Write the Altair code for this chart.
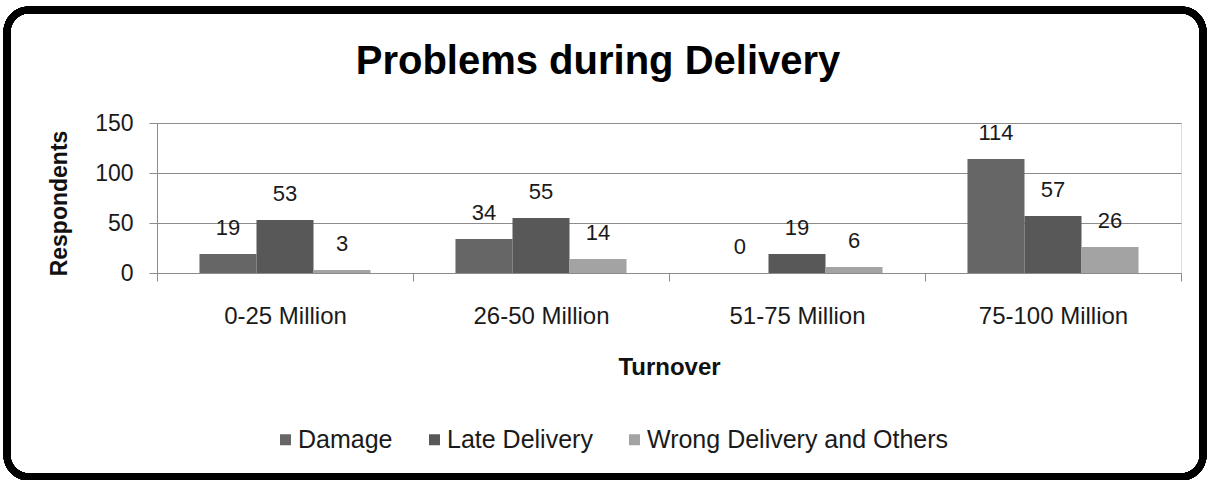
import altair as alt
import pandas as pd

# Respondents reporting each delivery problem, by company turnover band
turnover = ["0-25 Million", "26-50 Million", "51-75 Million", "75-100 Million"]
problems = ["Damage", "Late Delivery", "Wrong Delivery and Others"]
damage = [19, 34, 0, 114]
late_delivery = [53, 55, 19, 57]
wrong_delivery = [3, 14, 6, 26]

series = {"Damage": damage, "Late Delivery": late_delivery,
          "Wrong Delivery and Others": wrong_delivery}
rows = []
for p in problems:
    for t, v in zip(turnover, series[p]):
        rows.append({"Turnover": t, "Problem": p, "Respondents": v})
df = pd.DataFrame(rows)

FONT = "Liberation Sans"
GRID = "#8c8c8c"
palette = ["#666666", "#585858", "#a3a3a3"]

x_enc = alt.X(
    "Turnover:N", sort=turnover,
    scale=alt.Scale(paddingInner=0, paddingOuter=0),
    axis=alt.Axis(
        title="Turnover", labelAngle=0, tickBand="extent", grid=False,
        domainColor=GRID, tickColor=GRID, tickSize=8,
        labelFont=FONT, labelFontSize=24, labelColor="#1a1a1a", labelPadding=23,
        titleFont=FONT, titleFontSize=24, titleFontWeight="bold", titleColor="#111111",
        titleX=512, titleY=94, titleBaseline="middle",
    ),
)
xoff_enc = alt.XOffset("Problem:N", sort=problems,
                       scale=alt.Scale(paddingInner=0, paddingOuter=0.745))
y_enc = alt.Y(
    "Respondents:Q",
    scale=alt.Scale(domain=[0, 150], nice=False),
    axis=alt.Axis(
        title="Respondents", values=[0, 50, 100, 150], grid=True,
        gridColor=GRID, domainColor=GRID, tickColor=GRID, tickSize=8,
        labelFont=FONT, labelFontSize=23, labelColor="#1a1a1a", labelPadding=16,
        titleFont=FONT, titleFontSize=23, titleFontWeight="bold", titleColor="#111111",
        titleAngle=270, titleX=-98, titleY=80, titleAlign="center", titleBaseline="middle",
    ),
)

# Rounded frame around the whole chart
frame = alt.Chart(df).mark_rect(
    fill="white", fillOpacity=0, stroke="black", strokeWidth=7, cornerRadius=22
).encode(
    x=alt.value(-150), x2=alt.value(1046), y=alt.value(-113), y2=alt.value(354)
)

bars = alt.Chart(df).mark_bar().encode(
    x=x_enc,
    xOffset=xoff_enc,
    y=y_enc,
    color=alt.Color(
        "Problem:N", sort=problems,
        scale=alt.Scale(domain=problems, range=palette),
        legend=alt.Legend(
            title=None, orient="none", direction="horizontal",
            legendX=116, legendY=304, symbolType="square", symbolSize=121,
            symbolStrokeWidth=0, labelFont=FONT, labelFontSize=25, labelColor="#1a1a1a",
            labelOffset=0, columnPadding=29, labelLimit=0,
        ),
    ),
)

labels = alt.Chart(df).mark_text(
    font=FONT, fontSize=22, color="#1a1a1a", baseline="middle", dy=-26
).encode(
    x=alt.X("Turnover:N", sort=turnover),
    xOffset=alt.XOffset("Problem:N", sort=problems),
    y="Respondents:Q",
    text="Respondents:Q",
)

chart = alt.layer(frame, bars, labels).properties(
    width=1024,
    height=150,
    padding={"left": 157, "top": 123, "right": 26, "bottom": 207},
    autosize=alt.AutoSizeParams(type="none"),
    title=alt.TitleParams(
        "Problems during Delivery", font=FONT, fontSize=40, fontWeight="bold",
        color="#000000", anchor="middle", baseline="alphabetic", dx=-71, dy=107, offset=0,
    ),
).configure_view(strokeWidth=0).configure(background="white")

chart.save("out.html", embed_options={"renderer": "svg", "actions": False})
